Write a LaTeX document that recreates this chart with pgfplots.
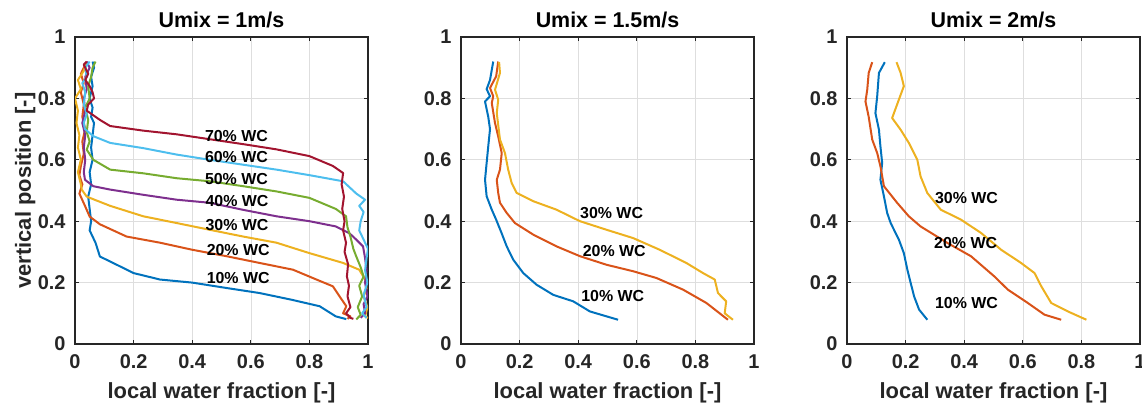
\documentclass[border=0pt]{standalone}
\usepackage{pgfplots}
\pgfplotsset{compat=1.18}
\usepackage{fontspec}
\setmainfont{Liberation Sans}
\definecolor{c1}{rgb}{0,0.447,0.741}
\definecolor{c2}{rgb}{0.85,0.325,0.098}
\definecolor{c3}{rgb}{0.929,0.694,0.125}
\definecolor{c4}{rgb}{0.494,0.184,0.556}
\definecolor{c5}{rgb}{0.466,0.674,0.188}
\definecolor{c6}{rgb}{0.301,0.745,0.933}
\definecolor{c7}{rgb}{0.635,0.078,0.184}
\definecolor{axc}{rgb}{0.15,0.15,0.15}
\tikzset{wc/.style={font=\fontsize{16}{18}\selectfont\bfseries, anchor=west, inner sep=0pt}}
\pgfplotsset{
  mat/.style={
    scale only axis, width=293bp, height=307bp,
    xmin=0, xmax=1, ymin=0, ymax=1,
    xtick={0,0.2,...,1}, ytick={0,0.2,...,1},
    grid=major, major grid style={line width=0.6bp, color=black!13},
    tick align=inside, major tick length=4bp,
    axis line style={line width=1.3bp, color=axc},
    every tick/.style={line width=1.1bp, color=axc},
    /pgf/number format/assume math mode=true,
    ticklabel style={font=\fontsize{20}{22}\selectfont\bfseries, color=black!85},
    xticklabel style={yshift=-7bp},
    yticklabel style={xshift=-6bp},
    label style={font=\fontsize{22}{24}\selectfont\bfseries, color=black!85},
    title style={font=\fontsize{21.5}{24}\selectfont\bfseries, at={(axis description cs:0.5,1.036)}, anchor=center},
    xlabel style={at={(axis description cs:0.5,-0.158)}, anchor=center},
    xlabel={local water fraction [-]},
    every axis plot/.append style={line width=2bp, no markers, line join=round},
  },
}
\begin{document}
\begin{tikzpicture}[x=1bp,y=1bp]
\useasboundingbox (0,0) rectangle (1142,408);
% ---------- Panel 1
\begin{axis}[mat, at={(75bp,64bp)}, anchor=south west, title={Umix = 1m/s},
  ylabel={vertical position [-]}, ylabel style={at={(axis description cs:-0.17,0.5)}, anchor=center}]
\addplot[c1] coordinates {(0.06,0.92)(0.065,0.9)(0.055,0.87)(0.06,0.84)(0.05,0.8)(0.06,0.77)(0.055,0.74)(0.065,0.72)(0.06,0.68)(0.055,0.64)(0.06,0.6)(0.05,0.56)(0.055,0.52)(0.045,0.48)(0.05,0.44)(0.055,0.4)(0.05,0.37)(0.07,0.33)(0.085,0.285)(0.13,0.264)(0.2,0.231)(0.29,0.21)(0.40,0.2)(0.52,0.182)(0.63,0.166)(0.74,0.144)(0.835,0.123)(0.89,0.09)(0.926,0.081)};
\addplot[c2] coordinates {(0.035,0.91)(0.02,0.88)(0.03,0.85)(0.02,0.82)(0.03,0.78)(0.025,0.74)(0.035,0.7)(0.025,0.66)(0.03,0.62)(0.02,0.58)(0.015,0.55)(0.025,0.52)(0.015,0.49)(0.034,0.45)(0.05,0.415)(0.085,0.39)(0.176,0.35)(0.29,0.33)(0.40,0.307)(0.517,0.286)(0.63,0.264)(0.744,0.242)(0.824,0.21)(0.88,0.188)(0.903,0.155)(0.926,0.123)(0.915,0.1)(0.94,0.09)(0.93,0.082)};
\addplot[c3] coordinates {(0.04,0.92)(0.03,0.89)(0.01,0.86)(0.02,0.83)(0.0,0.80)(0.01,0.76)(0.005,0.72)(0.015,0.68)(0.01,0.64)(0.02,0.6)(0.01,0.56)(0.02,0.52)(0.023,0.503)(0.04,0.48)(0.12,0.45)(0.233,0.416)(0.347,0.394)(0.46,0.372)(0.574,0.35)(0.6875,0.33)(0.80,0.296)(0.915,0.264)(0.97,0.242)(0.99,0.21)(0.995,0.18)(0.985,0.155)(0.998,0.12)(0.99,0.09)(1.0,0.085)};
\addplot[c4] coordinates {(0.04,0.92)(0.05,0.9)(0.035,0.87)(0.04,0.83)(0.03,0.8)(0.035,0.76)(0.025,0.72)(0.035,0.68)(0.03,0.64)(0.035,0.6)(0.03,0.56)(0.034,0.535)(0.0625,0.514)(0.12,0.503)(0.233,0.486)(0.347,0.47)(0.46,0.46)(0.574,0.437)(0.6875,0.416)(0.80,0.40)(0.89,0.383)(0.9375,0.36)(0.96,0.34)(0.983,0.318)(0.99,0.28)(0.995,0.24)(0.99,0.2)(0.998,0.155)(0.985,0.13)(0.99,0.1)(0.975,0.085)};
\addplot[c5] coordinates {(0.07,0.92)(0.06,0.9)(0.055,0.87)(0.045,0.84)(0.05,0.8)(0.035,0.77)(0.045,0.73)(0.04,0.69)(0.05,0.66)(0.04,0.633)(0.0625,0.6)(0.12,0.568)(0.233,0.556)(0.347,0.54)(0.46,0.53)(0.574,0.514)(0.6875,0.497)(0.80,0.476)(0.89,0.44)(0.925,0.416)(0.93,0.38)(0.94,0.35)(0.95,0.31)(0.96,0.285)(0.975,0.25)(0.985,0.22)(0.97,0.19)(0.98,0.155)(0.965,0.12)(0.975,0.095)(0.96,0.08)};
\addplot[c6] coordinates {(0.05,0.92)(0.035,0.9)(0.04,0.87)(0.025,0.85)(0.035,0.82)(0.03,0.78)(0.04,0.75)(0.03,0.72)(0.034,0.70)(0.0625,0.677)(0.12,0.655)(0.233,0.638)(0.347,0.617)(0.46,0.6)(0.574,0.584)(0.6875,0.568)(0.80,0.55)(0.915,0.53)(0.96,0.49)(0.99,0.47)(0.97,0.45)(0.985,0.43)(0.975,0.40)(0.97,0.37)(0.985,0.34)(1.0,0.31)(0.995,0.28)(0.99,0.24)(0.998,0.2)(0.985,0.16)(0.995,0.12)(0.98,0.1)(0.995,0.085)};
\addplot[c7] coordinates {(0.04,0.92)(0.03,0.91)(0.045,0.88)(0.035,0.86)(0.05,0.84)(0.06,0.82)(0.065,0.80)(0.045,0.78)(0.04,0.76)(0.055,0.75)(0.085,0.73)(0.12,0.71)(0.233,0.695)(0.347,0.683)(0.46,0.667)(0.574,0.651)(0.6875,0.634)(0.80,0.612)(0.88,0.58)(0.915,0.557)(0.91,0.52)(0.918,0.48)(0.912,0.44)(0.92,0.40)(0.915,0.37)(0.925,0.33)(0.92,0.30)(0.932,0.26)(0.928,0.22)(0.935,0.19)(0.93,0.155)(0.94,0.12)(0.925,0.1)(0.94,0.085)(0.95,0.082)};
\node[wc] at (axis cs:0.443,0.676) {70\% WC};
\node[wc] at (axis cs:0.443,0.608) {60\% WC};
\node[wc] at (axis cs:0.443,0.539) {50\% WC};
\node[wc] at (axis cs:0.445,0.465) {40\% WC};
\node[wc] at (axis cs:0.445,0.389) {30\% WC};
\node[wc] at (axis cs:0.449,0.307) {20\% WC};
\node[wc] at (axis cs:0.449,0.215) {10\% WC};
\end{axis}
% ---------- Panel 2
\begin{axis}[mat, at={(461bp,64bp)}, anchor=south west, title={Umix = 1.5m/s}]
\addplot[c1] coordinates {(0.11,0.92)(0.099,0.86)(0.0875,0.83)(0.099,0.807)(0.082,0.79)(0.093,0.74)(0.099,0.70)(0.093,0.644)(0.0875,0.59)(0.082,0.535)(0.0875,0.481)(0.105,0.4375)(0.12,0.405)(0.139,0.36)(0.156,0.318)(0.178,0.275)(0.2125,0.231)(0.258,0.193)(0.315,0.16)(0.383,0.139)(0.44,0.106)(0.536,0.079)};
\addplot[c2] coordinates {(0.127,0.92)(0.12,0.872)(0.099,0.834)(0.11,0.807)(0.105,0.785)(0.116,0.72)(0.127,0.676)(0.139,0.622)(0.133,0.568)(0.122,0.535)(0.127,0.492)(0.133,0.46)(0.156,0.427)(0.184,0.394)(0.247,0.356)(0.326,0.318)(0.406,0.286)(0.497,0.258)(0.5875,0.237)(0.667,0.215)(0.758,0.177)(0.8375,0.1336)(0.911,0.079)};
\addplot[c3] coordinates {(0.13,0.918)(0.133,0.883)(0.116,0.828)(0.127,0.796)(0.122,0.752)(0.133,0.666)(0.15,0.622)(0.161,0.568)(0.173,0.524)(0.19,0.492)(0.247,0.465)(0.326,0.4375)(0.406,0.4)(0.497,0.372)(0.5875,0.345)(0.678,0.307)(0.769,0.264)(0.826,0.231)(0.866,0.21)(0.877,0.166)(0.905,0.139)(0.9,0.1)(0.928,0.079)};
\node[wc] at (axis cs:0.406,0.427) {30\% WC};
\node[wc] at (axis cs:0.415,0.302) {20\% WC};
\node[wc] at (axis cs:0.41,0.155) {10\% WC};
\end{axis}
% ---------- Panel 3
\begin{axis}[mat, at={(847bp,64bp)}, anchor=south west, title={Umix = 2m/s}]
\addplot[c1] coordinates {(0.129,0.918)(0.109,0.883)(0.103,0.807)(0.097,0.752)(0.109,0.698)(0.114,0.644)(0.12,0.59)(0.114,0.535)(0.126,0.481)(0.137,0.427)(0.149,0.394)(0.177,0.34)(0.194,0.296)(0.206,0.242)(0.217,0.2)(0.229,0.155)(0.246,0.112)(0.274,0.079)};
\addplot[c2] coordinates {(0.086,0.918)(0.074,0.883)(0.069,0.828)(0.063,0.79)(0.074,0.74)(0.086,0.666)(0.103,0.622)(0.114,0.579)(0.126,0.514)(0.171,0.46)(0.211,0.416)(0.251,0.383)(0.343,0.329)(0.423,0.286)(0.503,0.22)(0.549,0.177)(0.617,0.1336)(0.674,0.0955)(0.731,0.079)};
\addplot[c3] coordinates {(0.169,0.918)(0.183,0.883)(0.194,0.84)(0.177,0.796)(0.154,0.736)(0.183,0.698)(0.211,0.655)(0.24,0.6)(0.251,0.546)(0.274,0.492)(0.32,0.4375)(0.389,0.405)(0.457,0.362)(0.526,0.307)(0.594,0.264)(0.64,0.231)(0.663,0.188)(0.697,0.1336)(0.754,0.106)(0.817,0.079)};
\node[wc] at (axis cs:0.30,0.476) {30\% WC};
\node[wc] at (axis cs:0.297,0.329) {20\% WC};
\node[wc] at (axis cs:0.30,0.1336) {10\% WC};
\end{axis}
\end{tikzpicture}
\end{document}
